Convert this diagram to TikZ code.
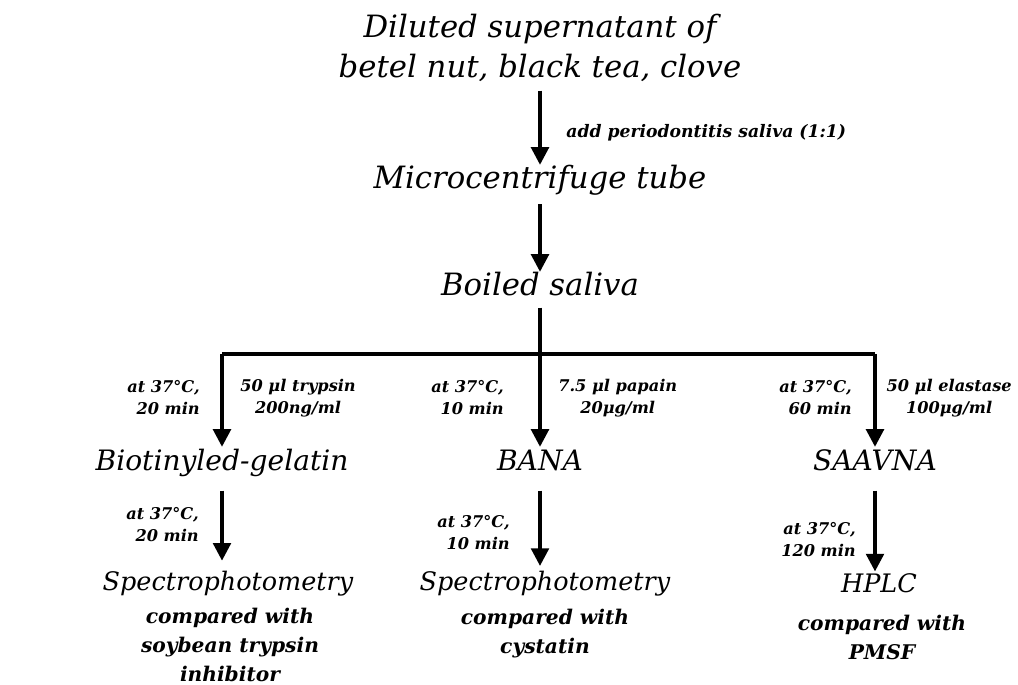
\documentclass[tikz,border=0pt]{standalone}
\usepackage{fontspec}
\setmainfont{DejaVu Serif}
\usetikzlibrary{arrows.meta}
\begin{document}
\begin{tikzpicture}[x=0.02cm,y=-0.02cm,
  title/.style={font=\fontsize{17.5}{22.5}\selectfont\itshape, inner sep=0pt, align=center},
  big/.style={font=\fontsize{17.5}{22.5}\selectfont\itshape, inner sep=0pt, text height=13pt, text depth=4pt},
  mid/.style={font=\fontsize{16}{20}\selectfont\itshape, inner sep=0pt, text height=12pt, text depth=3.5pt},
  res/.style={font=\fontsize{14.5}{19}\selectfont\itshape, inner sep=0pt, text height=11.5pt, text depth=3.5pt},
  note/.style={font=\fontsize{9.8}{12.5}\selectfont\bfseries\itshape, inner sep=0pt},
  lab/.style={font=\fontsize{9.2}{12.5}\selectfont\bfseries\itshape, inner sep=0pt},
  cmp/.style={font=\fontsize{11.5}{16.4}\selectfont\bfseries\itshape, inner sep=0pt, align=center},
  arr/.style={line width=2pt, -{Triangle[width=10pt,length=10pt]}},
  bar/.style={line width=2pt}
]
\useasboundingbox (0,0) rectangle (1018,684);
\fill[white] (0,0) rectangle (1018,684);

% main chain
\node[title] (src) at (540,48) {Diluted supernatant of\\betel nut, black tea, clove};
\node[big, anchor=base] (tube) at (540,188) {Microcentrifuge tube};
\node[big, anchor=base] (boil) at (540,295) {Boiled saliva};
\node[note, anchor=base west] (add) at (566,137) {add periodontitis saliva (1:1)};

% second level
\node[mid, anchor=base] (bio) at (222,470) {Biotinyled-gelatin};
\node[mid, anchor=base] (bana) at (540,470) {BANA};
\node[mid, anchor=base] (saav) at (875,470) {SAAVNA};

% branch junctions
\coordinate (jl) at (222,354);
\coordinate (jr) at (875,354);

% results
\node[res, anchor=base] (spec1) at (228,590) {Spectrophotometry};
\node[cmp, anchor=north] (c1) at (230,608) {compared with\\soybean trypsin\\inhibitor};
\node[res, anchor=base] (spec2) at (545,590) {Spectrophotometry};
\node[cmp, anchor=north] (c2) at (545,609) {compared with\\cystatin};
\node[res, anchor=base] (hplc) at (879,592) {HPLC};
\node[cmp, anchor=north] (c3) at (882,615) {compared with\\PMSF};

% labels, first branch level
\node[lab, align=right, anchor=east] (t1) at (200,398) {at 37°C,\\20 min};
\node[lab, align=center, anchor=west] (e1) at (240,398) {50 μl trypsin\\200ng/ml};
\node[lab, align=right, anchor=east] (t2) at (504,398) {at 37°C,\\10 min};
\node[lab, align=center, anchor=west] (e2) at (558,398) {7.5 μl papain\\20μg/ml};
\node[lab, align=right, anchor=east] (t3) at (852,398) {at 37°C,\\60 min};
\node[lab, align=center, anchor=east] (e3) at (1012,398) {50 μl elastase\\100μg/ml};

% labels, second level
\node[lab, align=right, anchor=east] (u1) at (199,525) {at 37°C,\\20 min};
\node[lab, align=right, anchor=east] (u2) at (510,533) {at 37°C,\\10 min};
\node[lab, align=right, anchor=east] (u3) at (856,540) {at 37°C,\\120 min};

% connectors
\draw[arr, shorten <=5pt] (src.south) -- (tube.north);
\draw[arr, shorten <=5pt] (tube.south) -- (boil.north);
\draw[bar] (jl) -- (jr);
\draw[arr, shorten <=3pt, shorten >=1pt] (boil.south) -- (boil.south |- bana.north);
\draw[arr, shorten >=1pt] (jl) -- (jl |- bio.north);
\draw[arr, shorten >=1pt] (jr) -- (jr |- saav.north);
\draw[arr, shorten <=8pt, shorten >=5pt] (bio.south) -- (bio.south |- spec1.north);
\draw[arr, shorten <=8pt, shorten >=2pt] (bana.south) -- (bana.south |- spec2.north);
\draw[arr, shorten <=8pt] (saav.south) -- (saav.south |- hplc.north);
\end{tikzpicture}
\end{document}
